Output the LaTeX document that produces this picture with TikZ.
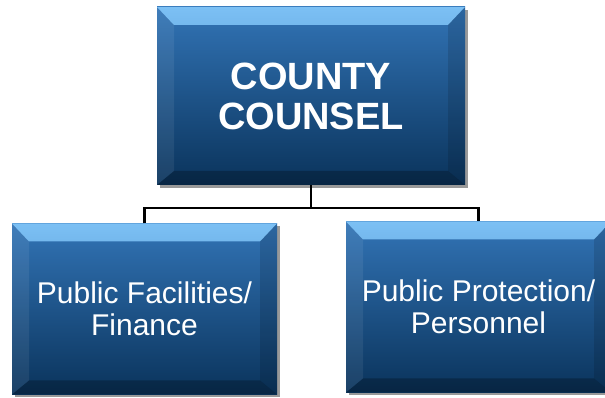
\documentclass[tikz,border=0pt]{standalone}
\usepackage{fontspec}
\setmainfont{Liberation Sans}
\usetikzlibrary{shadows}
\definecolor{facetop}{HTML}{3274B6}
\definecolor{facebot}{HTML}{0A335B}
\definecolor{bevlight}{HTML}{7CC0F4}
\tikzset{
  orgbox/.style={rectangle, inner sep=0pt, draw=none, text=white, align=center,
    top color=facetop, bottom color=facebot,
    drop shadow={shadow xshift=3pt, shadow yshift=-3pt, fill=black, opacity=.4},
    path picture={
      \shade[top color=bevlight, bottom color=facetop] (path picture bounding box.north west) -- (path picture bounding box.north east)
        -- ([xshift=-17pt,yshift=-18pt]path picture bounding box.north east) -- ([xshift=17pt,yshift=-18pt]path picture bounding box.north west) -- cycle;
      \fill[white, opacity=.07] (path picture bounding box.north west) -- ([xshift=17pt,yshift=-18pt]path picture bounding box.north west)
        -- ([xshift=17pt,yshift=14pt]path picture bounding box.south west) -- (path picture bounding box.south west) -- cycle;
      \fill[black, opacity=.12] (path picture bounding box.north east) -- ([xshift=-17pt,yshift=-18pt]path picture bounding box.north east)
        -- ([xshift=-17pt,yshift=14pt]path picture bounding box.south east) -- (path picture bounding box.south east) -- cycle;
      \fill[black, opacity=.25] (path picture bounding box.south west) -- ([xshift=17pt,yshift=14pt]path picture bounding box.south west)
        -- ([xshift=-17pt,yshift=14pt]path picture bounding box.south east) -- (path picture bounding box.south east) -- cycle;
    }},
  headbox/.style={orgbox, minimum width=308pt, minimum height=178pt, font=\fontsize{38}{40}\selectfont\bfseries},
  unitbox/.style={orgbox, minimum width=265pt, minimum height=171pt, font=\fontsize{30}{32}\selectfont},
  link/.style={line width=2.6pt, black}
}
\begin{document}
\begin{tikzpicture}[x=1pt,y=1pt]
\useasboundingbox (0,0) rectangle (605,398);
\clip (0,0) rectangle (605,398);
\node[headbox] (counsel) at (311,302) {COUNTY\\COUNSEL};
\node[unitbox] (facil) at (144.5,89) {Public Facilities/\\Finance};
\node[unitbox] (protect) at (478.5,91) {Public Protection/\\Personnel};

\coordinate (bus) at (311,190);
\draw[link] (counsel.south) -- (bus);
\draw[link] (facil.north) |- (bus) -| (protect.north);
\end{tikzpicture}
\end{document}
